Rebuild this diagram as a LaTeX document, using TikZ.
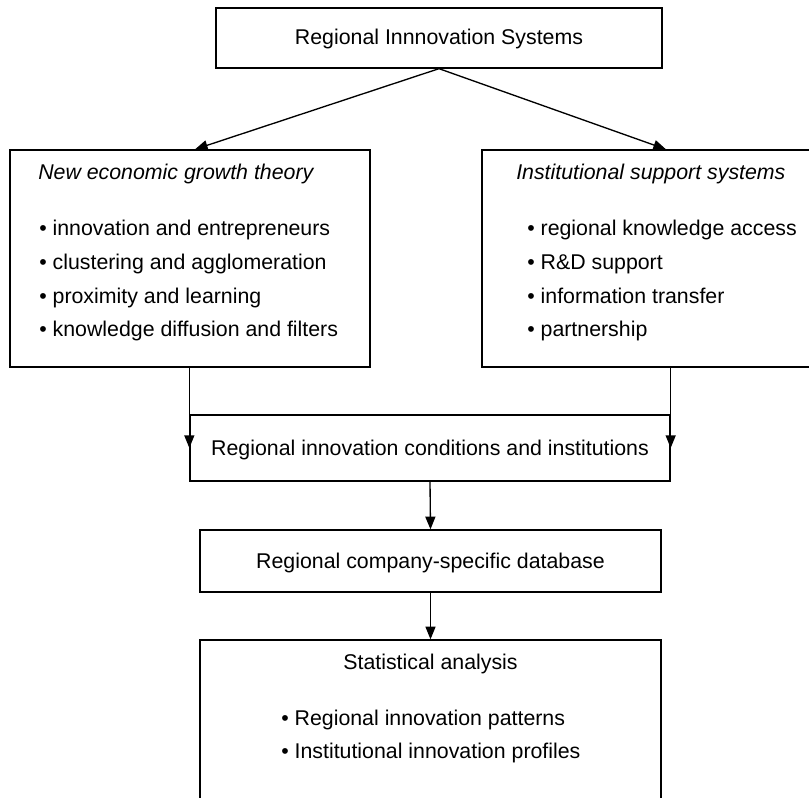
\documentclass[tikz,border=0pt]{standalone}
\usepackage{fontspec}
\setmainfont{Liberation Sans}
\usetikzlibrary{arrows.meta,fit}
\begin{document}
\begin{tikzpicture}[x=0.75pt,y=-0.75pt,
  box/.style={draw, line width=1pt, inner sep=0pt},
  txt/.style={inner sep=0pt, font=\fontsize{16}{19}\selectfont},
  arr/.style={-{Triangle[length=9.5pt,width=7.5pt]}, line width=1pt}]
\useasboundingbox (0,0) rectangle (809,798);
\clip (0,0) rectangle (809,798);

% boxes
\node[box, fit={(216,8) (662,68)}] (top) {};
\node[box, fit={(10,150) (370,367)}] (left) {};
\node[box, fit={(482,150) (850,367)}] (right) {};
\node[box, fit={(190,415) (670,481)}] (mid) {};
\node[box, fit={(200,530) (661,592)}] (db) {};
\node[box, fit={(200,640) (661,830)}] (stat) {};

% texts
\node[txt, anchor=base] (ttop) at (439,45) {Regional Innnovation Systems};

\node[txt, anchor=base west] (ltitle) at (38,180) {\itshape New economic growth theory};
\node[txt, anchor=base west] (l1) at (39,236) {• innovation and entrepreneurs};
\node[txt, anchor=base west] (l2) at (39,269.5) {• clustering and agglomeration};
\node[txt, anchor=base west] (l3) at (39,303) {• proximity and learning};
\node[txt, anchor=base west] (l4) at (39,336.5) {• knowledge diffusion and filters};

\node[txt, anchor=base west] (rtitle) at (516,180) {\itshape Institutional support systems};
\node[txt, anchor=base west] (r1) at (527,236) {• regional knowledge access};
\node[txt, anchor=base west] (r2) at (527,269.5) {• R\&D support};
\node[txt, anchor=base west] (r3) at (527,303) {• information transfer};
\node[txt, anchor=base west] (r4) at (527,336.5) {• partnership};

\node[txt, anchor=base] (mtext) at (430,455) {Regional innovation conditions and institutions};
\node[txt, anchor=base] (dbtext) at (430.5,568) {Regional company-specific database};

\node[txt, anchor=base] (stitle) at (430.5,669) {Statistical analysis};
\node[txt, anchor=base west] (s1) at (281,725) {• Regional innovation patterns};
\node[txt, anchor=base west] (s2) at (281,758.5) {• Institutional innovation profiles};

% connectors
\draw[arr] (top.south) -- ([xshift=3.75pt]left.north);
\draw[arr] (top.south) -- (right.north);
\draw[arr] (left.south -| mid.west) -- (mid.west);
\draw[arr] (right.south -| mid.east) -- (mid.east);
\draw[arr] (mid.south) -- (db.north);
\draw[arr] (db.south) -- (stat.north);
\end{tikzpicture}
\end{document}
